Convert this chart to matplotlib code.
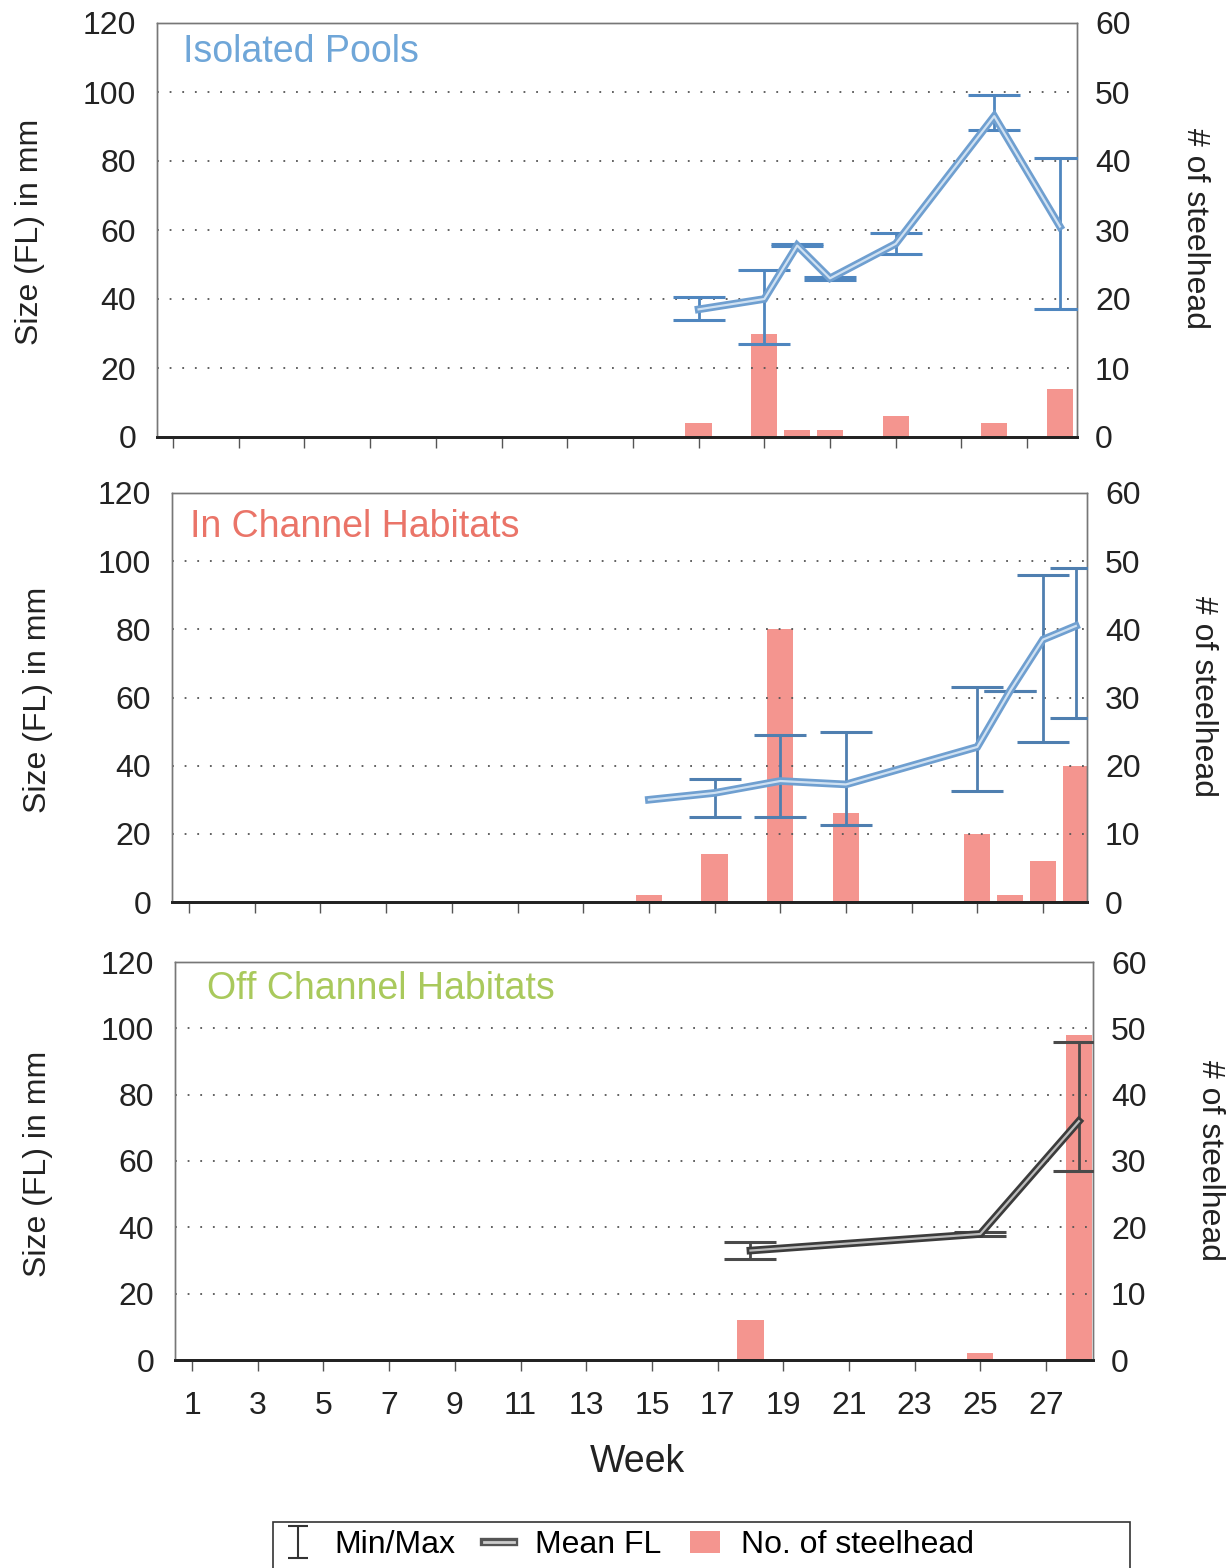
import numpy as np
import matplotlib.pyplot as plt
from matplotlib.lines import Line2D
from matplotlib.patches import Patch, Rectangle

plt.rcParams['font.family'] = ['Liberation Sans', 'DejaVu Sans']

# Isolated Pools
weeks_pools = [17, 19, 20, 21, 23, 26, 28]
mean_pools = [37, 40, 55.5, 46, 56, 93, 61]
min_pools = [34, 27, 55.5, 45.5, 53, 89, 37]
max_pools = [40.5, 48.5, 56, 46.5, 59, 99, 81]
count_pools = [2, 15, 1, 1, 3, 2, 7]

# In Channel Habitats
weeks_channel = [15, 17, 19, 21, 25, 26, 27, 28]
mean_channel = [30, 32, 35.5, 34.5, 45.5, 62, 77, 81]
min_channel = [np.nan, 25, 25, 22.5, 32.5, 62, 47, 54]
max_channel = [np.nan, 36, 49, 50, 63, 62, 96, 98]
count_channel = [1, 7, 40, 13, 10, 1, 6, 20]

# Off Channel Habitats
weeks_off = [18, 25, 28]
mean_off = [33, 38, 72]
min_off = [30.5, 37.5, 57]
max_off = [35.5, 38.5, 96]
count_off = [6, 1, 49]

size_ticks = [0, 20, 40, 60, 80, 100, 120]
count_ticks = [0, 10, 20, 30, 40, 50, 60]
week_ticks = list(range(1, 28, 2))

W, H = 1230, 1568
BAR = '#f4958f'


def box(l, t, r, b):
    return [l / W, 1 - b / H, (r - l) / W, (b - t) / H]


panels = [
    dict(title="Isolated Pools", tcolor='#6fa6d8', rect=box(157, 23, 1077, 437),
         xlim=(0.51, 28.52), tpos=(0.028, 0.93),
         weeks=weeks_pools, mean=mean_pools, lo=min_pools, hi=max_pools,
         count=count_pools, outer='#6f9fd0', inner='#cfe1f2', ecolor='#4f86bf',
         ylab=(30, 232), rlab=(1195, 228)),
    dict(title="In Channel Habitats", tcolor='#ea7468', rect=box(172, 493, 1087, 902),
         xlim=(0.48, 28.34), tpos=(0.02, 0.917),
         weeks=weeks_channel, mean=mean_channel, lo=min_channel, hi=max_channel,
         count=count_channel, outer='#6f9fd0', inner='#cfe1f2', ecolor='#4f7fb0',
         ylab=(38, 700), rlab=(1203, 696)),
    dict(title="Off Channel Habitats", tcolor='#a9c95c', rect=box(175, 962, 1093, 1360),
         xlim=(0.48, 28.43), tpos=(0.035, 0.932),
         weeks=weeks_off, mean=mean_off, lo=min_off, hi=max_off,
         count=count_off, outer='#3c3c3c', inner='#bdbdbd', ecolor='#4a4a4a',
         ylab=(38, 1164), rlab=(1210, 1160)),
]

fig = plt.figure(figsize=(12.3, 15.68), dpi=100)

for i, p in enumerate(panels):
    ax = fig.add_axes(p['rect'])
    ax2 = ax.twinx()

    ax2.bar(p['weeks'], p['count'], width=0.8, color=BAR, edgecolor='none')
    ax2.set_ylim(0, 60)
    ax2.set_yticks(count_ticks)

    mean = np.array(p['mean'], dtype=float)
    lo = np.array(p['lo'], dtype=float)
    hi = np.array(p['hi'], dtype=float)
    ax.errorbar(p['weeks'], mean, yerr=[mean - lo, hi - mean], fmt='none',
                ecolor=p['ecolor'], elinewidth=2, capsize=19, capthick=2.2,
                zorder=3)
    ax.plot(p['weeks'], mean, color=p['outer'], lw=5.5, zorder=4,
            solid_joinstyle='miter')
    ax.plot(p['weeks'], mean, color=p['inner'], lw=1.6, zorder=5)

    ax.set_zorder(ax2.get_zorder() + 1)
    ax.patch.set_visible(False)

    ax.set_xlim(*p['xlim'])
    ax.set_ylim(0, 120)
    ax.set_yticks(size_ticks)
    ax.set_xticks(week_ticks)
    for gy in size_ticks[1:-1]:
        ax.axhline(gy, color='#555555', lw=1.3, ls=(0, (1, 6)), zorder=1)

    ax.tick_params(axis='y', length=0, pad=15, labelsize=23, colors='#222222')
    ax2.tick_params(axis='y', length=0, pad=13, labelsize=23, colors='#222222')
    ax.tick_params(axis='x', direction='out', length=8, width=1,
                   color='#555555', pad=14, labelsize=23, labelcolor='#222222')
    if i < 2:
        ax.tick_params(axis='x', labelbottom=False)

    for a in (ax, ax2):
        for side in ('left', 'top', 'right'):
            a.spines[side].set_color('#777777')
            a.spines[side].set_linewidth(1)
        a.spines['bottom'].set_color('#222222')
        a.spines['bottom'].set_linewidth(2)

    ax.text(p['tpos'][0], p['tpos'][1], p['title'], transform=ax.transAxes,
            color=p['tcolor'], fontsize=27, ha='left', va='center')

    fig.text(p['ylab'][0] / W, 1 - p['ylab'][1] / H, "Size (FL) in mm",
             rotation=90, ha='center', va='center', fontsize=23, color='#222222')
    fig.text(p['rlab'][0] / W, 1 - p['rlab'][1] / H, "# of steelhead",
             rotation=270, ha='center', va='center', fontsize=23, color='#222222')

fig.text(637 / W, 1 - 1462 / H, "Week", ha='center', va='center',
         fontsize=27, color='#222222')

# legend
dummy = fig.add_axes([0, 0, 0.01, 0.01])
dummy.set_visible(False)
eb = dummy.errorbar([0], [1], yerr=[[0.5], [0.5]], fmt='none', ecolor='#333333',
                    elinewidth=1.5, capsize=7, capthick=1.5)
mean_handle = (Line2D([], [], color='#555555', lw=6),
               Line2D([], [], color='#cccccc', lw=2))
bar_handle = Patch(facecolor=BAR, edgecolor='none')

fig.legend([eb, mean_handle, bar_handle],
           ["Min/Max", "Mean FL", "No. of steelhead"],
           loc='center left', ncol=3, fontsize=23, frameon=False,
           handlelength=0.95, handleheight=0.7, handletextpad=0.65,
           columnspacing=0.9, bbox_to_anchor=(283 / W, 1 - 1545 / H),
           borderaxespad=0, borderpad=0)
fig.patches.append(Rectangle((273 / W, -0.01), (1130 - 273) / W,
                             0.01 + 1 - 1522 / H, transform=fig.transFigure,
                             fill=False, edgecolor='#333333', lw=1.2))

fig.savefig('out.png', dpi=100)
